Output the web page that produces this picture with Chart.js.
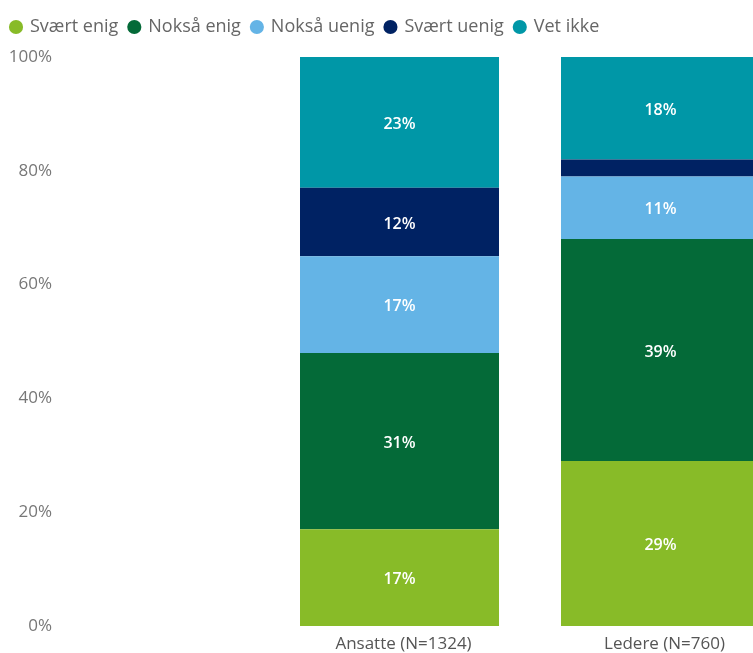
<!DOCTYPE html>
<html>
<head>
<meta charset="utf-8">
<script src="https://cdn.jsdelivr.net/npm/chart.js@4.4.1/dist/chart.umd.min.js"></script>
<style>
  html, body { margin: 0; padding: 0; background: #fff; }
  #wrap { width: 753px; height: 653px; position: relative; }
</style>
</head>
<body>
<div id="wrap"><canvas id="chart"></canvas></div>
<script>
// grupper og svarfordeling (prosent)
const categories = ['Ansatte (N=1324)', 'Ledere (N=760)'];
const seriesNames = ['Svært enig', 'Nokså enig', 'Nokså uenig', 'Svært uenig', 'Vet ikke'];
const svaertEnig = [17, 29];
const noksaEnig = [31, 39];
const noksaUenig = [17, 11];
const svaertUenig = [12, 3];
const vetIkke = [23, 18];
const seriesColors = ['#88bb28', '#046a38', '#64b4e6', '#002263', '#0097a7'];

const seriesValues = [svaertEnig, noksaEnig, noksaUenig, svaertUenig, vetIkke];

// søylene står på x = 1, 2 på en lineær akse, så avstanden kan styres med min/max
const datasets = seriesNames.map(function(name, i) {
    return {
        label: name,
        data: seriesValues[i].map(function(v, j) { return { x: j + 1, y: v }; }),
        backgroundColor: seriesColors[i],
        borderWidth: 0,
        categoryPercentage: 1,
        barPercentage: 0.7625
    };
});

// prosenttall inne i søylene (små andeler vises ikke)
const barLabels = {
    id: 'barLabels',
    afterDatasetsDraw(chart) {
        const ctx = chart.ctx;
        ctx.save();
        ctx.font = '600 16px "Open Sans"';
        ctx.fillStyle = '#ffffff';
        ctx.textAlign = 'center';
        ctx.textBaseline = 'middle';
        chart.data.datasets.forEach(function(ds, i) {
            const meta = chart.getDatasetMeta(i);
            meta.data.forEach(function(bar, j) {
                const v = ds.data[j].y;
                if (v < 5) return;
                ctx.fillText(v + '%', bar.x, (bar.y + bar.base) / 2 + 2);
            });
        });
        ctx.restore();
    }
};

// litt luft mellom forklaringen og plottet
const legendSpacing = {
    id: 'legendSpacing',
    beforeInit(chart) {
        const fit = chart.legend.fit;
        chart.legend.fit = function() {
            fit.call(this);
            this.height = 50;
        };
    }
};

const ctx = document.getElementById('chart').getContext('2d');
const chart = new Chart(ctx, {
    type: 'bar',
    data: { datasets: datasets },
    plugins: [barLabels, legendSpacing],
    options: {
        responsive: true,
        maintainAspectRatio: false,
        animation: false,
        layout: { padding: { top: 7 } },
        plugins: {
            tooltip: { enabled: false },
            legend: {
                position: 'top',
                align: 'start',
                labels: {
                    usePointStyle: true,
                    pointStyle: 'circle',
                    boxWidth: 10,
                    boxHeight: 10,
                    padding: 11,
                    color: '#666666',
                    font: { family: '"Open Sans"', size: 18 }
                }
            }
        },
        scales: {
            x: {
                type: 'linear',
                stacked: true,
                offset: false,
                min: -0.3008,
                max: 2.3544,
                grid: { display: false, drawTicks: false },
                border: { display: false },
                afterBuildTicks: function(scale) {
                    scale.ticks = categories.map(function(c, i) { return { value: i + 1 }; });
                },
                afterFit: function(scale) { scale.height = 27; },
                ticks: {
                    padding: 8,
                    labelOffset: 4,
                    color: '#555555',
                    font: { family: '"Open Sans"', size: 17 },
                    maxRotation: 0,
                    callback: function(value) { return categories[value - 1] || ''; }
                }
            },
            y: {
                stacked: true,
                min: 0,
                max: 100,
                grid: { display: false, drawTicks: false },
                border: { display: false },
                afterFit: function(scale) { scale.width = 60; },
                ticks: {
                    stepSize: 20,
                    padding: 8,
                    color: '#777777',
                    font: { family: '"Open Sans"', size: 17 },
                    callback: function(value) { return value + '%'; }
                }
            }
        }
    }
});
</script>
</body>
</html>
